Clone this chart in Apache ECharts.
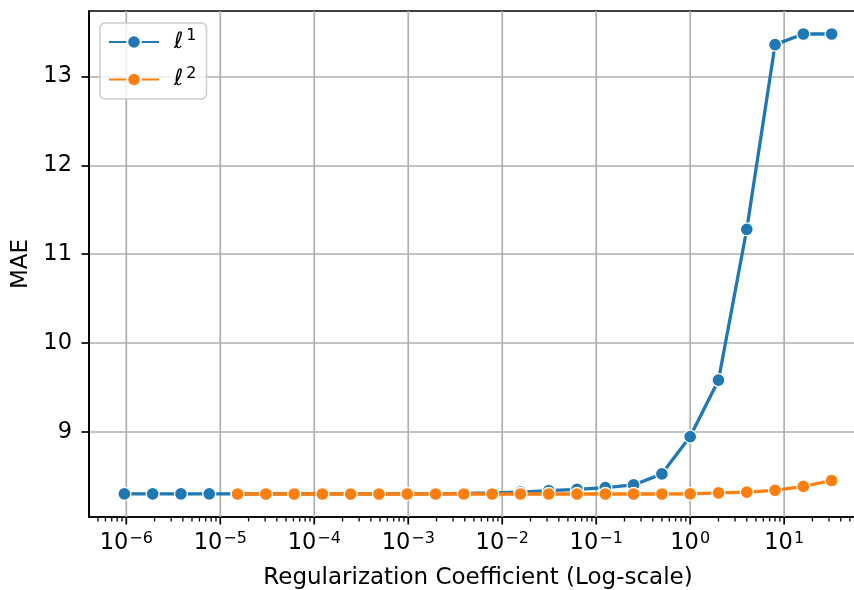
<!DOCTYPE html>
<html>
<head>
<meta charset="utf-8">
<script src="https://cdn.jsdelivr.net/npm/echarts@6/dist/echarts.min.js"></script>
<style>
  html, body { margin: 0; padding: 0; background: #fff; }
  #chart { width: 854px; height: 590px; }
</style>
</head>
<body>
<div id="chart"></div>
<script>
// regularization coefficient = 2^k, k
var l1Exponents = [-20, -19, -18, -17, -16, -15, -14, -13, -12, -11, -10, -9, -8, -7, -6, -5, -4, -3, -2, -1, 0, 1, 2, 3, 4, 5];
var l1Mae = [8.30, 8.30, 8.30, 8.30, 8.30, 8.30, 8.30, 8.30, 8.30, 8.30, 8.30, 8.30, 8.305, 8.31, 8.32, 8.335, 8.35, 8.37, 8.40, 8.525, 8.945, 9.58, 11.28, 13.36, 13.48, 13.48];

var l2Exponents = [-16, -15, -14, -13, -12, -11, -10, -9, -8, -7, -6, -5, -4, -3, -2, -1, 0, 1, 2, 3, 4, 5];
var l2Mae = [8.298, 8.298, 8.298, 8.298, 8.298, 8.298, 8.298, 8.298, 8.298, 8.298, 8.298, 8.298, 8.298, 8.298, 8.298, 8.298, 8.30, 8.31, 8.318, 8.34, 8.383, 8.45];

var xTickExponents = [-6, -5, -4, -3, -2, -1, 0, 1];
var yTicks = [9, 10, 11, 12, 13];

var FONT = 'DejaVu Sans';
var FS = 22.5;
var BLUE = '#1f77b4', ORANGE = '#ff7f0e';

function pairs(exps, vals) {
  return exps.map(function (k, i) { return [Math.pow(2, k), vals[i]]; });
}

// axis limits like matplotlib (5% margin in data space)
var xLogMin = l1Exponents[0] * Math.LOG10E * Math.LN2;
var xLogMax = l1Exponents[l1Exponents.length - 1] * Math.LOG10E * Math.LN2;
var xPad = (xLogMax - xLogMin) * 0.05;
var xMin = Math.pow(10, xLogMin - xPad), xMax = Math.pow(10, xLogMax + xPad);
var yLo = 8.298, yHi = 13.48, yPad = (yHi - yLo) * 0.05;
var yMin = yLo - yPad, yMax = yHi + yPad;

// minor ticks at 2..9 x 10^e
var minorVals = [];
for (var e = -7; e <= 1; e++) {
  for (var m = 2; m <= 9; m++) {
    var v = m * Math.pow(10, e);
    if (v > xMin && v < xMax) minorVals.push([v]);
  }
}

var chart = echarts.init(document.getElementById('chart'));
chart.setOption({
  animation: false,
  textStyle: { fontFamily: FONT },
  grid: {
    // the axes run past the right edge of the picture
    left: 89, top: 11, width: 778, height: 506,
    outerBoundsMode: 'none', containLabel: false,
    show: true, borderColor: '#000', borderWidth: 1.7, backgroundColor: 'transparent'
  },
  legend: {
    orient: 'vertical',
    left: 100, top: 23,
    padding: [5, 10, 8, 8],
    itemWidth: 50, itemHeight: 17, itemGap: 12,
    backgroundColor: 'rgba(255,255,255,0.8)',
    borderColor: '#cccccc', borderWidth: 1.5, borderRadius: 5,
    data: ['l1', 'l2'],
    formatter: function (name) {
      return name === 'l1' ? '{i|\u2113}{s|1}' : '{i|\u2113}{s|2}';
    },
    textStyle: {
      color: '#000',
      rich: {
        i: { fontFamily: FONT, fontSize: FS, fontStyle: 'italic', color: '#000', lineHeight: 27, padding: [0, 3, 0, 10] },
        s: { fontFamily: FONT, fontSize: 16, color: '#000', padding: [0, 0, 12, 0] }
      }
    }
  },
  xAxis: {
    type: 'log', logBase: 10,
    min: xMin, max: xMax,
    name: 'Regularization Coefficient (Log-scale)',
    nameLocation: 'middle', nameGap: 50,
    nameTextStyle: { fontFamily: FONT, fontSize: 23, color: '#000' },
    axisLine: { onZero: false, lineStyle: { color: '#000', width: 1.7 } },
    axisTick: { show: false },
    axisLabel: { show: false },
    splitLine: { show: false },
    minorTick: { show: false }
  },
  yAxis: {
    type: 'value',
    min: yMin, max: yMax,
    name: 'MAE', nameLocation: 'middle', nameGap: 51, nameRotate: 90,
    nameTextStyle: { fontFamily: FONT, fontSize: 23, color: '#000' },
    axisLine: { show: true, lineStyle: { color: '#000', width: 1.7 } },
    axisTick: { show: true, length: 7.5, lineStyle: { color: '#000', width: 1.7 } },
    axisLabel: {
      showMinLabel: false, showMaxLabel: false,
      fontFamily: FONT, fontSize: FS, color: '#000', margin: 17,
      formatter: function (v) { return yTicks.indexOf(Math.round(v * 1000) / 1000) >= 0 ? String(v) : ''; }
    },
    splitLine: { show: true, showMinLine: false, showMaxLine: false, lineStyle: { color: '#b0b0b0', width: 1.7 } }
  },
  series: [
    {
      // decade grid lines, ticks and 10^k labels on the log axis
      name: 'decades', type: 'custom',
      data: xTickExponents.map(function (k) { return [Math.pow(10, k)]; }),
      silent: true, clip: false, z: 1,
      renderItem: function (params, api) {
        var v = api.value(0);
        var top = api.coord([v, yMax]);
        var bot = api.coord([v, yMin]);
        var k = Math.round(Math.log10(v));
        return {
          type: 'group',
          children: [
            { type: 'line', shape: { x1: bot[0], y1: top[1], x2: bot[0], y2: bot[1] },
              style: { stroke: '#b0b0b0', lineWidth: 1.7 } },
            { type: 'line', shape: { x1: bot[0], y1: bot[1], x2: bot[0], y2: bot[1] + 7.5 },
              style: { stroke: '#000', lineWidth: 1.7 } },
            { type: 'text', x: bot[0], y: bot[1] + 13,
              style: {
                text: '{b|10}{s|' + String(k).replace('-', '\u2212') + '}',
                align: 'center', verticalAlign: 'top',
                rich: {
                  b: { fontFamily: FONT, fontSize: FS, fill: '#000', lineHeight: 26 },
                  s: { fontFamily: FONT, fontSize: 16, fill: '#000', padding: [0, 0, 8, 1] }
                }
              } }
          ]
        };
      }
    },
    {
      name: 'minor', type: 'custom',
      data: minorVals,
      silent: true, clip: false, z: 1,
      renderItem: function (params, api) {
        var p = api.coord([api.value(0), yMin]);
        return {
          type: 'line',
          shape: { x1: p[0], y1: p[1], x2: p[0], y2: p[1] + 4.4 },
          style: { stroke: '#000', lineWidth: 1.3 }
        };
      }
    },
    {
      name: 'l1', type: 'line',
      data: pairs(l1Exponents, l1Mae),
      symbol: 'circle', symbolSize: 13,
      lineStyle: { color: BLUE, width: 3.3 },
      itemStyle: { color: BLUE, borderColor: '#fff', borderWidth: 1.3 },
      z: 3
    },
    {
      name: 'l2', type: 'line',
      data: pairs(l2Exponents, l2Mae),
      symbol: 'circle', symbolSize: 13,
      lineStyle: { color: ORANGE, width: 3.3 },
      itemStyle: { color: ORANGE, borderColor: '#fff', borderWidth: 1.3 },
      z: 4
    }
  ]
});
</script>
</body>
</html>
